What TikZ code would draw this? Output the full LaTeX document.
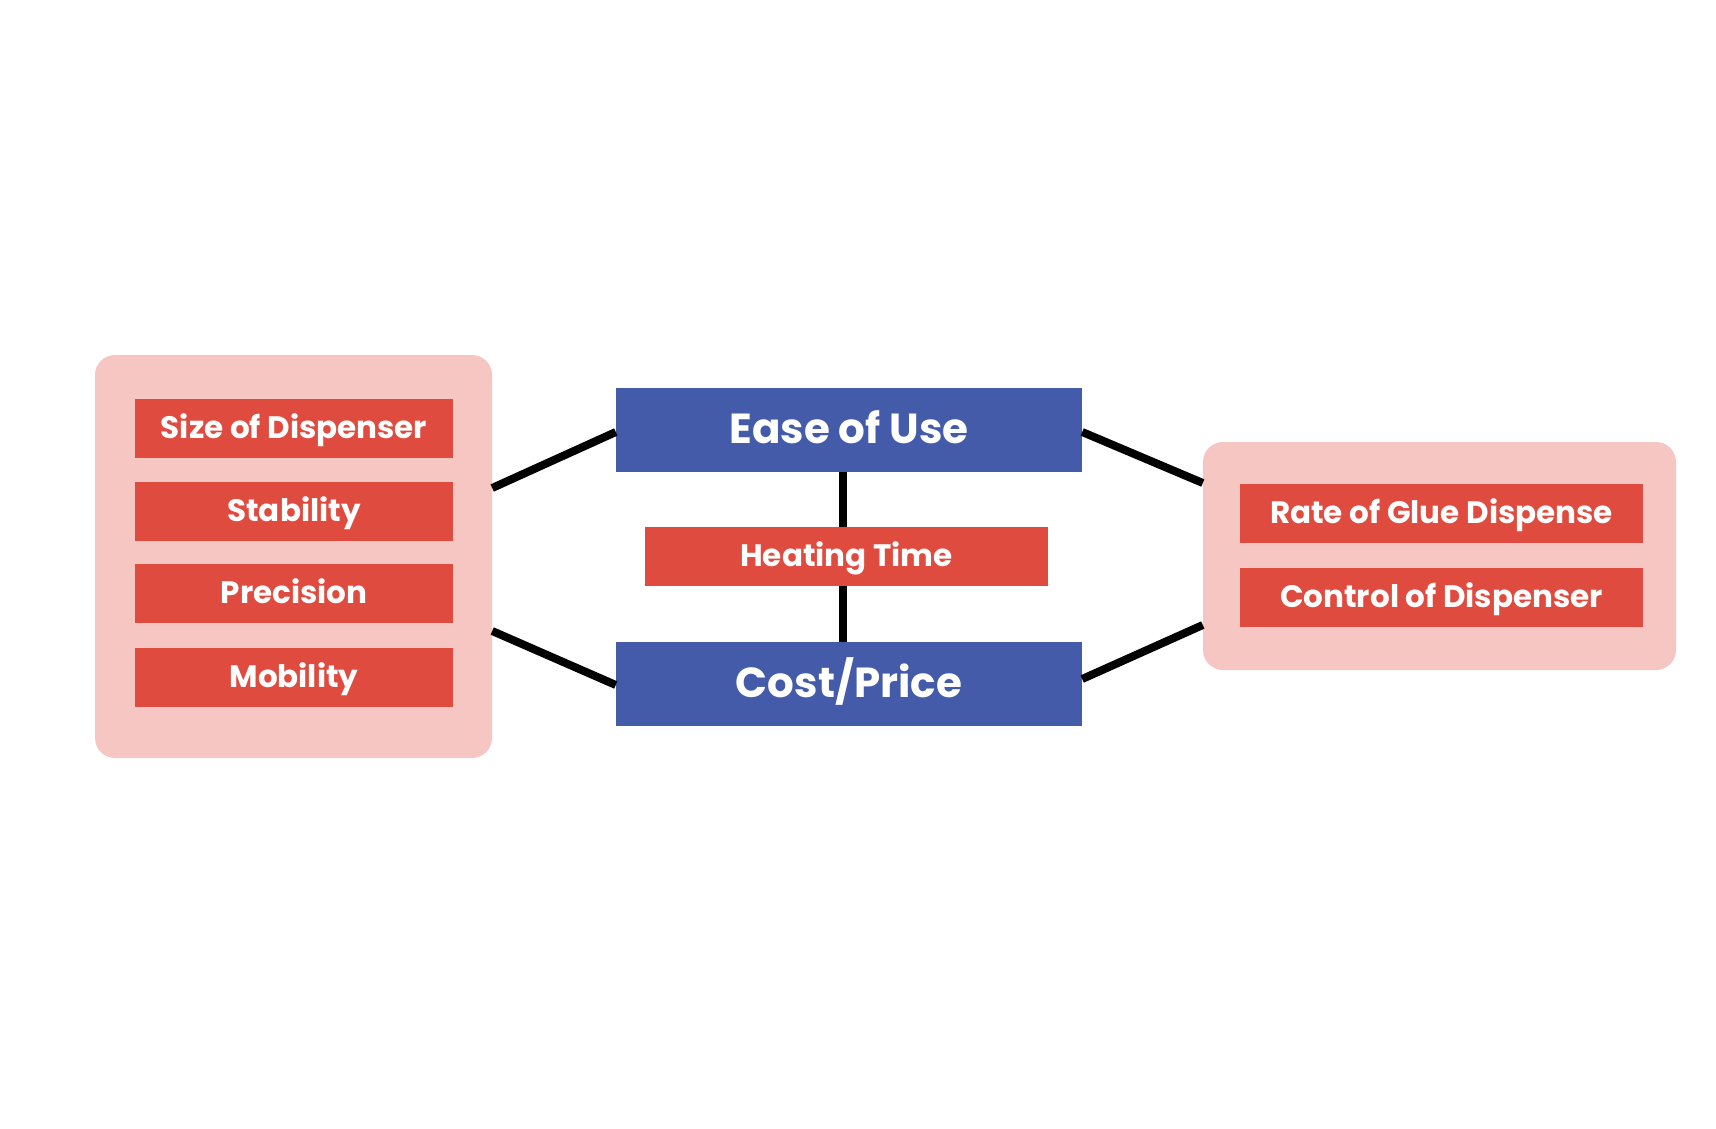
\documentclass[tikz,border=0pt]{standalone}
\usepackage{fontspec}
\setmainfont{Poppins}[UprightFont=* Bold, BoldFont=* Bold]
\definecolor{pinkbg}{HTML}{F5C6C2}
\definecolor{redbox}{HTML}{E04B40}
\definecolor{bluebox}{HTML}{435BA8}
\begin{document}
\begin{tikzpicture}[x=1pt,y=-1pt,
  container/.style={fill=pinkbg,draw=none,rounded corners=20pt,inner sep=0pt},
  redlabel/.style={fill=redbox,draw=none,text=white,inner sep=0pt,minimum height=59pt,text height=21pt,text depth=1pt,font=\fontsize{31}{36}\selectfont},
  bluelabel/.style={fill=bluebox,draw=none,text=white,inner sep=0pt,minimum width=466pt,minimum height=84pt,text height=30pt,text depth=4pt,font=\fontsize{42}{48}\selectfont},
  link/.style={line width=8pt,black}]
\useasboundingbox (0,0) rectangle (1716,1129);
\node[container,minimum width=397pt,minimum height=403pt] (lc) at (293.5,556.5) {};
\node[container,minimum width=473pt,minimum height=228pt] (rc) at (1439.5,556) {};
\node[redlabel,minimum width=318pt] (size) at (294,428) {Size of Dispenser};
\node[redlabel,minimum width=318pt] (stab) at (294,511) {Stability};
\node[redlabel,minimum width=318pt] (prec) at (294,593.5) {Precision};
\node[redlabel,minimum width=318pt] (mob) at (294,677) {Mobility};
\node[bluelabel] (ease) at (849,430) {Ease of Use};
\node[redlabel,minimum width=403pt] (heat) at (846.5,556.5) {Heating Time};
\node[bluelabel] (cost) at (849,684) {Cost/Price};
\node[redlabel,minimum width=403pt] (rate) at (1441.5,513.5) {Rate of Glue Dispense};
\node[redlabel,minimum width=403pt] (ctrl) at (1441.5,597) {Control of Dispenser};
\draw[link] ([yshift=68.5pt]lc.east) -- ([yshift=-2pt]ease.west);
\draw[link] ([yshift=-74.5pt]lc.east) -- ([yshift=-1pt]cost.west);
\draw[link] ([yshift=-2pt]ease.east) -- ([yshift=73pt]rc.west);
\draw[link] ([yshift=5pt]cost.east) -- ([yshift=-69pt]rc.west);
\draw[link] ([xshift=-6pt]ease.south) -- ([xshift=-6pt]ease.south |- heat.north);
\draw[link] ([xshift=-6pt]cost.north |- heat.south) -- ([xshift=-6pt]cost.north);
\end{tikzpicture}
\end{document}
